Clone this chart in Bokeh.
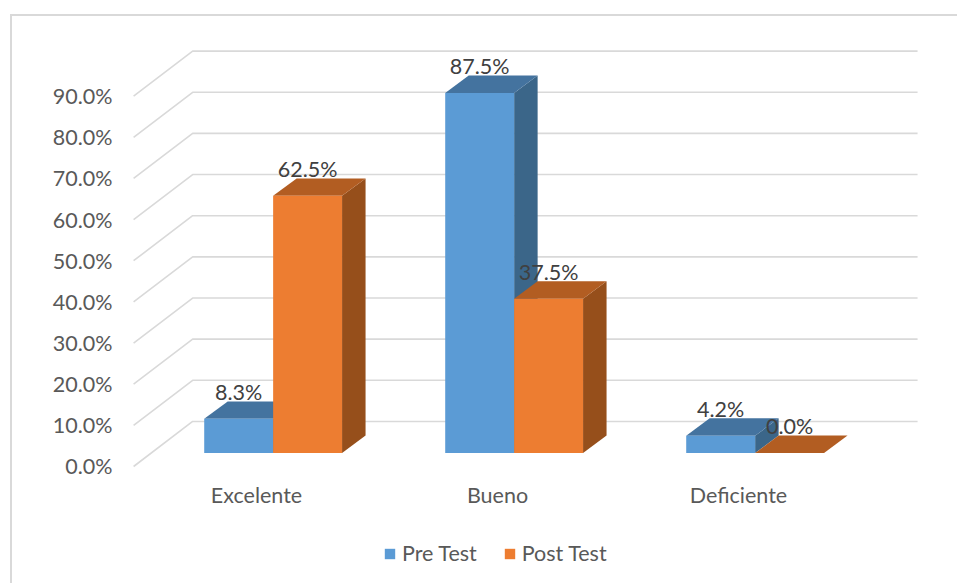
from bokeh.embed import file_html
from bokeh.resources import INLINE
from bokeh.plotting import figure
from bokeh.models import Range1d, FixedTicker, PrintfTickFormatter, Legend, LegendItem, ColumnDataSource, LinearAxis
from bokeh.core.properties import value

categories = ["Excelente", "Bueno", "Deficiente"]
pre_test = [8.3, 87.5, 4.2]
post_test = [62.5, 37.5, 0.0]
y_ticks = [0, 10, 20, 30, 40, 50, 60, 70, 80, 90]

FONT = "Lato"
FONT_SIZE = "21.5px"
GRID = "#d9d9d9"
AXIS_TEXT = "#595959"
LABEL_TEXT = "#404040"
BLUE = ("#5b9bd5", "#44739f", "#3b6689")
ORANGE = ("#ed7d31", "#b25d22", "#964f1b")

# geometry in axis units: x = category index, y = percent on the front plane
FLOOR_DX, FLOOR_DY = 0.245, 10.94    # front axis plane to back wall
BAR_DX, BAR_DY = 0.0975, 4.23        # depth of each bar
BAR_W = 0.286
BAR_SHIFT = 0.069                    # group centre relative to the category label
BAR_BASE = 3.28
GRID_X0, GRID_X1 = -0.51, 2.743
XAXIS_AT = -2.187                    # where the category labels hang from

p = figure(frame_width=840, frame_height=555, output_backend="svg", toolbar_location=None,
           x_range=Range1d(-0.5685, 2.917), y_range=Range1d(-28.92, 105.95),
           min_border_left=107, min_border_right=0, min_border_top=14, min_border_bottom=0,
           margin=(16, 0, 0, 12), outline_line_color=None,
           styles={"box-shadow": f"-2px -2px 0 {GRID}"})
p.xgrid.visible = False
p.ygrid.visible = False
p.xaxis.visible = False
p.yaxis.visible = False

# walls: diagonal floor-to-back lines and horizontal back lines
for t in y_ticks:
    p.line([GRID_X0, GRID_X0 + FLOOR_DX, GRID_X1],
           [t, t + FLOOR_DY, t + FLOOR_DY], line_color=GRID, line_width=1.6)


def bar_3d(v, left, colors):
    right = left + BAR_W
    low, high = BAR_BASE, BAR_BASE + v
    p.patch([right, right + BAR_DX, right + BAR_DX, right],
            [low, low + BAR_DY, high + BAR_DY, high], fill_color=colors[2], line_color=None)
    p.patch([left, right, right + BAR_DX, left + BAR_DX],
            [high, high, high + BAR_DY, high + BAR_DY], fill_color=colors[1], line_color=None)
    return p.quad(left=[left], right=[right], bottom=[low], top=[high],
                  fill_color=colors[0], line_color=None)


legend_pre = legend_post = None
for i in range(len(categories)):
    legend_pre = bar_3d(pre_test[i], i + BAR_SHIFT - BAR_W, BLUE)
    legend_post = bar_3d(post_test[i], i + BAR_SHIFT, ORANGE)

# data labels
lx, ly, lt = [], [], []
for i in range(len(categories)):
    lx += [i + BAR_SHIFT - BAR_W / 2, i + BAR_SHIFT + BAR_W / 2]
    ly += [BAR_BASE + pre_test[i] + BAR_DY, BAR_BASE + post_test[i] + BAR_DY]
    lt += [f"{pre_test[i]:.1f}%", f"{post_test[i]:.1f}%"]
p.text(x="x", y="y", text="t", source=ColumnDataSource(dict(x=lx, y=ly, t=lt)),
       text_font=value(FONT), text_font_size=FONT_SIZE, text_color=LABEL_TEXT,
       text_align="center", text_baseline="bottom", y_offset=3.5)

yaxis = LinearAxis(ticker=FixedTicker(ticks=y_ticks),
                   formatter=PrintfTickFormatter(format="%.1f%%"),
                   axis_line_color=None, major_tick_line_color=None, minor_tick_line_color=None,
                   major_tick_out=0, major_tick_in=0, minor_tick_out=0, minor_tick_in=0,
                   major_label_text_font=FONT, major_label_text_font_size=FONT_SIZE,
                   major_label_text_color=AXIS_TEXT, major_label_standoff=7)
p.add_layout(yaxis, "left")
xaxis = LinearAxis(ticker=FixedTicker(ticks=list(range(len(categories)))),
                   major_label_overrides={i: c for i, c in enumerate(categories)},
                   fixed_location=XAXIS_AT,
                   axis_line_color=None, major_tick_line_color=None, minor_tick_line_color=None,
                   major_tick_out=0, major_tick_in=0, minor_tick_out=0, minor_tick_in=0,
                   major_label_text_font=FONT, major_label_text_font_size=FONT_SIZE,
                   major_label_text_color=AXIS_TEXT, major_label_standoff=7)
p.add_layout(xaxis, "below")

legend = Legend(items=[LegendItem(label="Pre Test", renderers=[legend_pre]),
                       LegendItem(label="Post Test", renderers=[legend_post])],
                orientation="horizontal", location=(264, 19),
                border_line_color=None, background_fill_color=None,
                glyph_width=13, glyph_height=13, label_standoff=6, spacing=26,
                label_text_font=FONT, label_text_font_size=FONT_SIZE, label_text_color=AXIS_TEXT,
                margin=0, padding=8)
p.add_layout(legend)

open("out.html", "w").write(file_html(p, INLINE))
